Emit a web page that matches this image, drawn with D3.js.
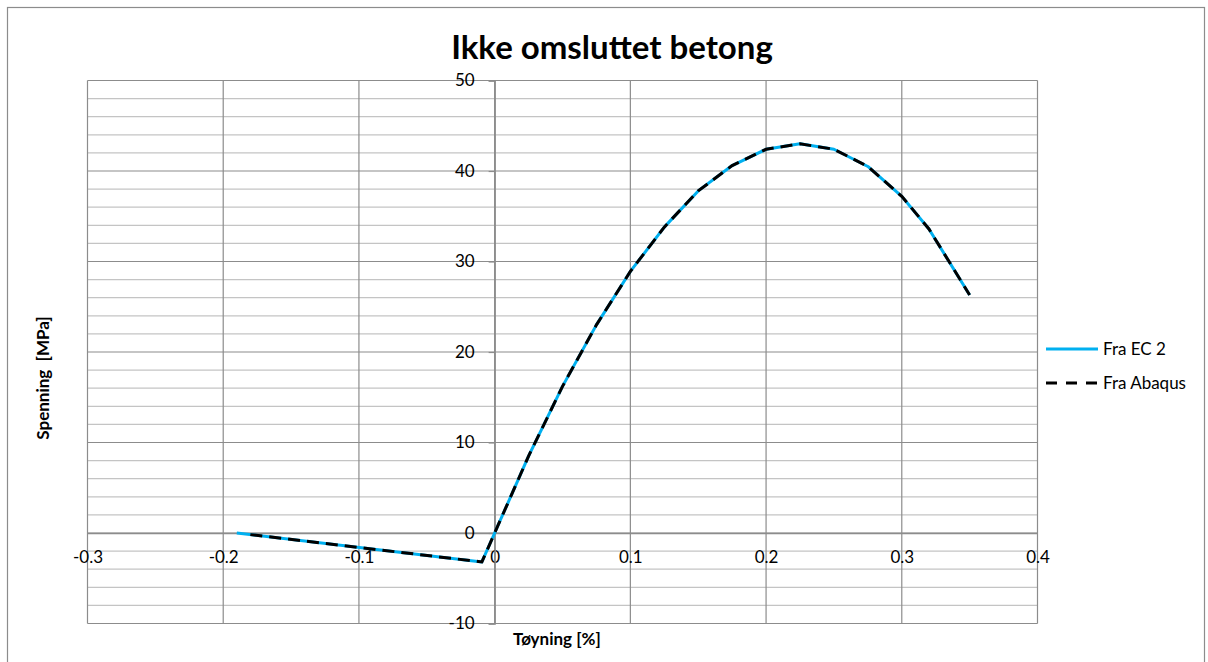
<!DOCTYPE html>
<html>
<head>
<meta charset="utf-8">
<script src="https://d3js.org/d3.v7.min.js"></script>
<style>
  body { margin: 0; background: #fff; }
  text { font-family: Lato, "Open Sans", sans-serif; }
</style>
</head>
<body>
<svg id="chart" width="1208" height="662"></svg>
<script>
// strain [%] and stress [MPa]
let ec2Strain = [-0.19, -0.0094, 0, 0.025, 0.05, 0.075, 0.1, 0.125, 0.15, 0.175, 0.2, 0.225, 0.25, 0.275, 0.3, 0.32, 0.35];
let ec2Stress = [0, -3.2, 0, 8.5, 16.2, 23.0, 28.9, 33.8, 37.8, 40.6, 42.4, 43.0, 42.4, 40.5, 37.2, 33.6, 26.3];
let abqStrain = [-0.18, -0.0094, 0, 0.025, 0.05, 0.075, 0.1, 0.125, 0.15, 0.175, 0.2, 0.225, 0.25, 0.275, 0.3, 0.32, 0.35];
let abqStress = [-0.18, -3.2, 0, 8.5, 16.2, 23.0, 28.9, 33.8, 37.8, 40.6, 42.4, 43.0, 42.4, 40.5, 37.2, 33.6, 26.3];
let xTicks = [-0.3, -0.2, -0.1, 0, 0.1, 0.2, 0.3, 0.4];
let yTicks = [-10, 0, 10, 20, 30, 40, 50];
let seriesNames = ["Fra EC 2", "Fra Abaqus"];

let plot = {left: 87.5, right: 1037.5, top: 80.5, bottom: 623.5};

let svg = d3.select("#chart");

// outer chart border
svg.append("rect")
   .attr("x", 7.5).attr("y", 7.5)
   .attr("width", 1197).attr("height", 700)
   .attr("fill", "none")
   .attr("stroke", "#8c8c8c")
   .attr("stroke-width", 1.2);

let x = d3.scaleLinear().domain([-0.3, 0.4]).range([plot.left, plot.right]);
let y = d3.scaleLinear().domain([-10, 50]).range([plot.bottom, plot.top]);

// minor horizontal gridlines every 2 MPa
let minor = d3.range(-10, 51, 2).filter(v => v % 10 !== 0);
svg.append("g").selectAll("line")
   .data(minor)
   .enter().append("line")
   .attr("x1", plot.left).attr("x2", plot.right)
   .attr("y1", d => y(d)).attr("y2", d => y(d))
   .attr("stroke", "#c4c4c4")
   .attr("stroke-width", 1.2);

// major gridlines
svg.append("g").selectAll("line")
   .data(yTicks)
   .enter().append("line")
   .attr("x1", plot.left).attr("x2", plot.right)
   .attr("y1", d => y(d)).attr("y2", d => y(d))
   .attr("stroke", "#8c8c8c")
   .attr("stroke-width", 1.2);

svg.append("g").selectAll("line")
   .data(xTicks)
   .enter().append("line")
   .attr("x1", d => x(d)).attr("x2", d => x(d))
   .attr("y1", plot.top).attr("y2", plot.bottom)
   .attr("stroke", "#8c8c8c")
   .attr("stroke-width", 1.2);

// axes crossing at zero
let fmt = d => d.toString();
let xAxis = svg.append("g")
   .attr("transform", "translate(0," + y(0) + ")")
   .call(d3.axisBottom(x).tickValues(xTicks).tickSize(0).tickPadding(18).tickFormat(fmt));
xAxis.select(".domain").attr("stroke", "#8c8c8c").attr("stroke-width", 1.5);
xAxis.selectAll("text").attr("font-size", 17).attr("fill", "#000")
     .attr("font-family", "Lato, sans-serif");

let yAxis = svg.append("g")
   .attr("transform", "translate(" + x(0) + ",0)")
   .call(d3.axisLeft(y).tickValues(yTicks).tickSize(6).tickPadding(14).tickFormat(fmt));
yAxis.select(".domain").attr("stroke", "#8c8c8c").attr("stroke-width", 1.5);
yAxis.selectAll("line").attr("stroke", "#8c8c8c").attr("stroke-width", 1.2);
yAxis.selectAll("text").attr("font-size", 17).attr("fill", "#000")
     .attr("font-family", "Lato, sans-serif");

// series
let line = d3.line().x(d => x(d[0])).y(d => y(d[1]));
let ec2 = ec2Strain.map((s, i) => [s, ec2Stress[i]]);
let abq = abqStrain.map((s, i) => [s, abqStress[i]]);

svg.append("path")
   .datum(ec2)
   .attr("d", line)
   .attr("fill", "none")
   .attr("stroke", "#00b0f0")
   .attr("stroke-width", 3)
   .attr("stroke-linejoin", "round");

svg.append("path")
   .datum(abq)
   .attr("d", line)
   .attr("fill", "none")
   .attr("stroke", "#000")
   .attr("stroke-width", 3)
   .attr("stroke-dasharray", "12,7");

// title and axis titles
svg.append("text")
   .attr("x", 612).attr("y", 59)
   .attr("text-anchor", "middle")
   .attr("font-size", 33)
   .attr("font-weight", "bold")
   .text("Ikke omsluttet betong");

svg.append("text")
   .attr("x", 513).attr("y", 645)
   .attr("font-size", 17)
   .attr("font-weight", "bold")
   .text("Tøyning [%]");

svg.append("text")
   .attr("transform", "translate(49,378) rotate(-90)")
   .attr("text-anchor", "middle")
   .attr("font-size", 17)
   .attr("font-weight", "bold")
   .style("white-space", "pre")
   .text("Spenning  [MPa]");

// legend
let legend = svg.append("g").selectAll("g")
   .data(seriesNames)
   .enter().append("g")
   .attr("transform", (d, i) => "translate(1046," + (349 + i * 34) + ")");

legend.append("line")
   .attr("x1", 0).attr("x2", 52)
   .attr("stroke", (d, i) => i === 0 ? "#00b0f0" : "#000")
   .attr("stroke-width", 3)
   .attr("stroke-dasharray", (d, i) => i === 0 ? null : "11,9");

legend.append("text")
   .attr("x", 57).attr("y", 6)
   .attr("font-size", 17)
   .text(d => d);
</script>
</body>
</html>
